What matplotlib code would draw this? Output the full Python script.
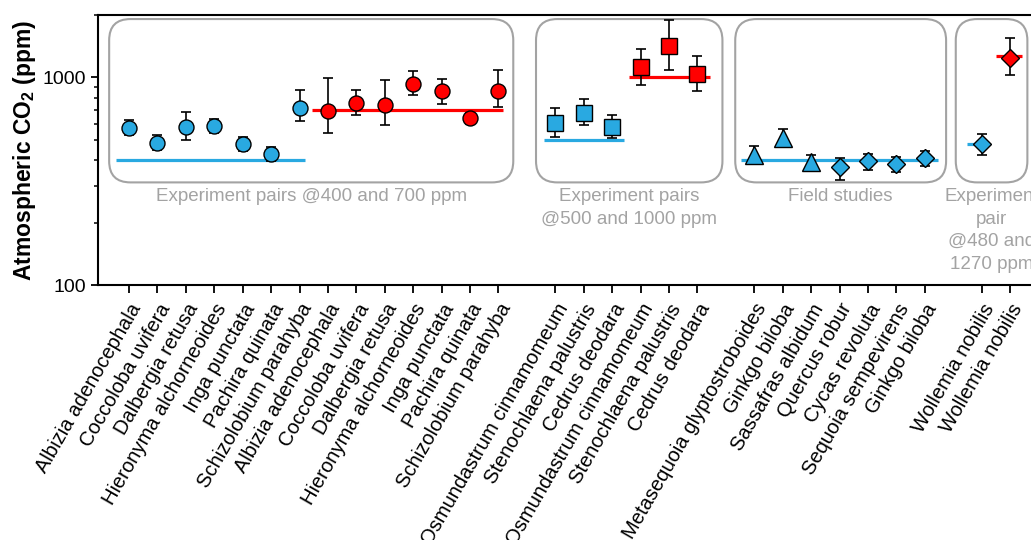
import matplotlib
matplotlib.use('Agg')
import matplotlib.pyplot as plt
from matplotlib.patches import FancyBboxPatch
from matplotlib.ticker import NullFormatter, LogLocator
import matplotlib.transforms as mtransforms

plt.rcParams['font.family'] = ['Liberation Sans', 'DejaVu Sans']
plt.rcParams['mathtext.fontset'] = 'custom'
plt.rcParams['mathtext.rm'] = 'Liberation Sans'
plt.rcParams['mathtext.bf'] = 'Liberation Sans:bold'

BLUE = '#29a9e1'
RED = '#ff0000'
GREY = '#a3a3a3'

# species labels and positions (gaps between groups)
species = ['Albizia adenocephala', 'Coccoloba uvifera', 'Dalbergia retusa',
           'Hieronyma alchorneoides', 'Inga punctata', 'Pachira quinata',
           'Schizolobium parahyba'] * 2 + \
          ['Osmundastrum cinnamomeum', 'Stenochlaena palustris', 'Cedrus deodara'] * 2 + \
          ['Metasequoia glyptostroboides', 'Ginkgo biloba', 'Sassafras albidum',
           'Quercus robur', 'Cycas revoluta', 'Sequoia sempevirens', 'Ginkgo biloba',
           'Wollemia nobilis', 'Wollemia nobilis']
positions = list(range(0, 14)) + list(range(15, 21)) + list(range(22, 29)) + [30, 31]

# experiment pairs @400 / 700 ppm (circles)
x_400 = [0, 1, 2, 3, 4, 5, 6]
v_400 = [570, 485, 575, 583, 476, 428, 714]
lo_400 = [526, 447, 497, 540, 441, 396, 617]
hi_400 = [621, 527, 681, 628, 517, 461, 866]
x_700 = [7, 8, 9, 10, 11, 12, 13]
v_700 = [689, 752, 736, 932, 857, 637, 863]
lo_700 = [540, 657, 588, 826, 747, 599, 718]
hi_700 = [989, 869, 975, 1077, 978, 674, 1084]

# experiment pairs @500 / 1000 ppm (squares)
x_500 = [15, 16, 17]
v_500 = [603, 676, 580]
lo_500 = [516, 588, 509]
hi_500 = [715, 790, 659]
x_1000 = [18, 19, 20]
v_1000 = [1121, 1425, 1034]
lo_1000 = [922, 1081, 863]
hi_1000 = [1374, 1893, 1262]

# field studies (triangles + diamonds)
x_tri = [22, 23, 24]
v_tri = [424, 512, 393]
lo_tri = [400, 490, 375]
hi_tri = [468, 563, 424]
x_dia = [25, 26, 27, 28]
v_dia = [369, 395, 385, 408]
lo_dia = [322, 360, 349, 376]
hi_dia = [410, 428, 416, 442]

# experiment pair @480 / 1270 ppm (diamonds)
x_480 = [30]
v_480 = [476]
lo_480 = [425]
hi_480 = [536]
x_1270 = [31]
v_1270 = [1243]
lo_1270 = [1026]
hi_1270 = [1552]

# reference CO2 levels: (value, x start, x end, colour)
ref_lines = [(400, -0.45, 6.2, BLUE), (700, 6.45, 13.15, RED),
             (500, 14.6, 17.4, BLUE), (1000, 17.6, 20.45, RED),
             (400, 21.55, 28.45, BLUE),
             (480, 29.48, 30.08, BLUE), (1270, 30.5, 31.41, RED)]

# grouping boxes: (x start, x end, label)
groups = [(-0.70, 13.52, 'Experiment pairs @400 and 700 ppm'),
          (14.32, 20.88, 'Experiment pairs\n@500 and 1000 ppm'),
          (21.33, 28.75, 'Field studies'),
          (29.09, 31.61, 'Experiment\npair\n@480 and\n1270 ppm')]

fig = plt.figure(figsize=(10.31, 5.40), dpi=100)
ax_left, ax_w = 97.5 / 1031, (1045 - 97.5) / 1031
ax = fig.add_axes([ax_left, 1 - 285 / 540, ax_w, 270 / 540])
ax.set_yscale('log')
xmin, xmax = -1.11, 32.23
ax.set_xlim(xmin, xmax)
ax.set_ylim(100, 2000)

# rounded boxes, x in data, y in axes fraction
trans = mtransforms.blended_transform_factory(ax.transData, ax.transAxes)
px_per_unit = ax_w * 1031 / (xmax - xmin)
aspect = px_per_unit / 270
for x0, x1, label in groups:
    box = FancyBboxPatch((x0, 0.38), x1 - x0, 0.985 - 0.38,
                         boxstyle='round,pad=0,rounding_size=0.75',
                         mutation_aspect=aspect, transform=trans,
                         facecolor='none', edgecolor=GREY, linewidth=1.5,
                         zorder=1, clip_on=False)
    ax.add_patch(box)
    ax.text((x0 + x1) / 2, 0.358, label, transform=trans, ha='center', va='top',
            color=GREY, fontsize=13.5, linespacing=1.42)

for val, x0, x1, col in ref_lines:
    ax.plot([x0, x1], [val, val], color=col, linewidth=2.3, zorder=2,
            solid_capstyle='butt')

series = [(x_400, v_400, lo_400, hi_400, 'o', BLUE, 10.8),
          (x_700, v_700, lo_700, hi_700, 'o', RED, 10.8),
          (x_500, v_500, lo_500, hi_500, 's', BLUE, 11.5),
          (x_1000, v_1000, lo_1000, hi_1000, 's', RED, 11.5),
          (x_tri, v_tri, lo_tri, hi_tri, '^', BLUE, 13.5),
          (x_dia, v_dia, lo_dia, hi_dia, 'D', BLUE, 9.5),
          (x_480, v_480, lo_480, hi_480, 'D', BLUE, 9.5),
          (x_1270, v_1270, lo_1270, hi_1270, 'D', RED, 9.5)]
for xs, vs, lo, hi, mk, col, ms in series:
    yerr = [[v - l for v, l in zip(vs, lo)], [h - v for v, h in zip(vs, hi)]]
    ax.errorbar(xs, vs, yerr=yerr, fmt='none', ecolor='black', elinewidth=1.2,
                capsize=3.5, capthick=1.2, zorder=3)
    ax.plot(xs, vs, linestyle='none', marker=mk, markersize=ms,
            markerfacecolor=col, markeredgecolor='black', markeredgewidth=1.0,
            zorder=4)

ax.set_xticks(positions)
ax.set_xticklabels(species, rotation=60, ha='right', rotation_mode='anchor',
                   fontsize=14.5)
ax.set_yticks([100, 1000])
ax.set_yticklabels(['100', '1000'], fontsize=14)
ax.yaxis.set_minor_locator(LogLocator(base=10, subs=range(2, 10)))
ax.yaxis.set_minor_formatter(NullFormatter())
ax.tick_params(axis='x', length=6, width=1.3, pad=5)
ax.tick_params(axis='y', which='major', length=5, width=1.3)
ax.tick_params(axis='y', which='minor', length=3, width=1.1)
for side in ['top', 'left', 'bottom', 'right']:
    ax.spines[side].set_linewidth(1.5)

ax.set_ylabel(r'Atmospheric CO$_\mathbf{2}$ (ppm)', fontsize=16.5,
              fontweight='bold', labelpad=3)

fig.savefig('out.png', dpi=100)
